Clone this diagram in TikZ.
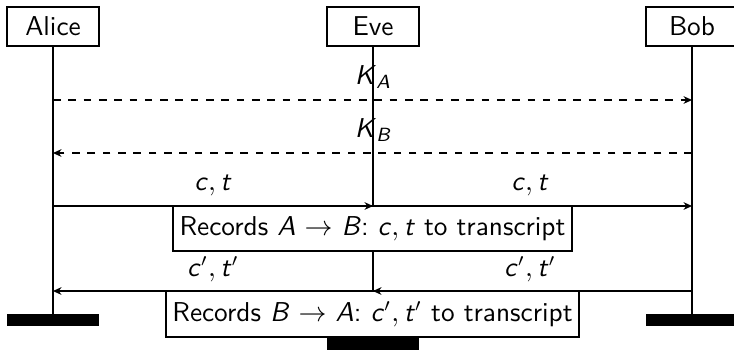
\documentclass[tikz,border=0pt]{standalone}
\usepackage{amsmath}
\usetikzlibrary{arrows.meta}
\newcommand\vv[1]{\textit{#1}}
\begin{document}
\begin{tikzpicture}[x=0.392pt,y=-0.392pt,
  every node/.style={font=\sffamily\fontsize{10.7pt}{13pt}\selectfont},
  actor/.style={draw,line width=0.5pt,minimum width=36pt,minimum height=15.3pt,inner sep=0pt},
  endbar/.style={fill=black,minimum width=36pt,minimum height=4.7pt,inner sep=0pt},
  lifeline/.style={line width=0.8pt},
  msg/.style={line width=0.5pt,-{Stealth[length=3.3pt,width=3pt,inset=1pt]}},
  dmsg/.style={msg,dashed},
  note/.style={draw,fill=white,line width=0.5pt,inner sep=0pt},
  lbl/.style={inner sep=0pt}]
\useasboundingbox (0,0) rectangle (734,349);
% actors
\node[actor] (alice) at (53,26.5) {Alice};
\node[actor] (eve) at (373,26.5) {Eve};
\node[actor] (bob) at (692,26.5) {Bob};
% end bars
\node[endbar] (abar) at (53,320) {};
\node[endbar] (ebar) at (373,344) {};
\node[endbar] (bbar) at (692,320) {};
% lifelines
\draw[lifeline] (alice) -- (abar);
\draw[lifeline] (eve) -- (ebar);
\draw[lifeline] (bob) -- (bbar);
% notes
\node[note,minimum width=156.4pt,minimum height=17.6pt] (rec1) at (372.5,228.5)
  {Records \vv{A} $\rightarrow$ \vv{B}: \vv{c}$,\,$\vv{t} to transcript};
\node[note,minimum width=161.9pt,minimum height=18pt] (rec2) at (372.5,314)
  {Records \vv{B} $\rightarrow$ \vv{A}: \vv{c}$'$$,\,$\vv{t}$'$ to transcript};
% message end points
\coordinate (a1) at (53,100);  \coordinate (b1) at (692,100);
\coordinate (a2) at (53,153);  \coordinate (b2) at (692,153);
\coordinate (a3) at (53,206);  \coordinate (e3) at (373,206); \coordinate (b3) at (692,206);
\coordinate (a4) at (53,291);  \coordinate (e4) at (373,291); \coordinate (b4) at (692,291);
% messages
\draw[dmsg] (a1) -- (b1);
\draw[dmsg] (b2) -- (a2);
\draw[msg] (a3) -- (e3);
\draw[msg] (e3) -- (b3);
\draw[msg] (b4) -- (e4);
\draw[msg] (e4) -- (a4);
% labels
\node[lbl] (ka) at (373,77) {\vv{K}$_{\textit{A}}$};
\node[lbl] (kb) at (373,130) {\vv{K}$_{\textit{B}}$};
\node[lbl] (ct1) at (213,185) {\vv{c}$,\,$\vv{t}};
\node[lbl] (ct2) at (530,185) {\vv{c}$,\,$\vv{t}};
\node[lbl] (cp1) at (213,269) {\vv{c}$'$$,\,$\vv{t}$'$};
\node[lbl] (cp2) at (530,269) {\vv{c}$'$$,\,$\vv{t}$'$};
\end{tikzpicture}
\end{document}
